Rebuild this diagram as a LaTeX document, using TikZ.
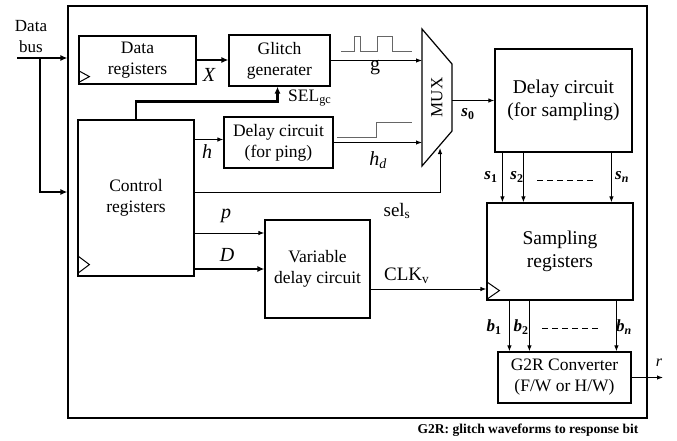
\documentclass[tikz,border=0pt]{standalone}
\usepackage{fontspec}
\setmainfont{Liberation Serif}
\usetikzlibrary{arrows.meta,calc}
\begin{document}
\begin{tikzpicture}[x=1pt,y=-1pt,
  box/.style={draw,line width=1.2pt,inner sep=0pt,align=center,font=\fontsize{17.5}{21}\selectfont},
  bigbox/.style={box,font=\fontsize{19.5}{23}\selectfont},
  thin/.style={line width=1pt,-{Latex[length=6pt,width=4.5pt]}},
  thick/.style={line width=2.6pt,-{Latex[length=7pt,width=6pt]}},
  lbl/.style={inner sep=0pt,font=\fontsize{19}{22}\selectfont},
  ilbl/.style={lbl,font=\fontsize{20}{22}\selectfont\itshape},
  blbl/.style={lbl,font=\fontsize{17}{20}\selectfont\bfseries\itshape},
  wave/.style={line width=1pt,draw=black!60},
  clk/.style={line width=1pt}]
\useasboundingbox (0,0) rectangle (677,440);

% outer frame
\node[draw,line width=1.2pt,minimum width=579pt,minimum height=412pt,inner sep=0pt] (outer) at (357.5,212) {};

% blocks
\node[box,minimum width=117pt,minimum height=48pt] (dreg) at (137.5,60) {Data\\registers};
\node[box,minimum width=101pt,minimum height=51pt] (glitch) at (279.5,60.5) {Glitch\\generater};
\node[box,minimum width=116pt,minimum height=156pt] (ctrl) at (136,198) {Control\\registers};
\node[box,minimum width=109pt,minimum height=51pt] (ping) at (278.5,142.5) {Delay circuit\\(for ping)};
\node[box,minimum width=105pt,minimum height=98pt] (vdel) at (317.5,269) {Variable\\delay circuit};
\node[bigbox,minimum width=137pt,minimum height=103pt] (dsamp) at (563.5,100.5) {Delay circuit\\(for sampling)};
\node[bigbox,minimum width=146pt,minimum height=97pt] (sreg) at (560,251.5) {Sampling\\registers};
\node[box,minimum width=133pt,minimum height=51pt] (g2r) at (564.5,377.5) {G2R Converter\\(F/W or H/W)};

% MUX
\coordinate (m1) at (422,29);
\coordinate (m2) at (452,64);
\coordinate (m3) at (452,131);
\coordinate (m4) at (422,166);
\coordinate (msel) at (440,148);
\draw[line width=1.2pt] (m1) -- (m2) -- (m3) -- (m4) -- cycle;
\node[lbl,rotate=90,font=\fontsize{17}{20}\selectfont] (mux) at (437,97.5) {MUX};

% clock triangles
\draw[clk] ($(dreg.south west)+(0,-2)$) -- ++(11,-6) -- ++(-11,-6);
\draw[clk] ($(ctrl.south west)+(0,-3)$) -- ++(12,-9) -- ++(-12,-9);
\draw[clk] ($(sreg.south west)+(0,-1)$) -- ++(13,-9) -- ++(-13,-9);

% data bus
\coordinate (bus) at (17,58);
\coordinate (busj) at (40,58);
\coordinate (bus2) at (40,192);
\node[lbl,align=center,font=\fontsize{17}{21}\selectfont] (buslbl) at (31,37) {Data\\bus};
\draw[line width=2.6pt] (bus) -- (busj);
\draw[thick] (busj) -- (busj -| outer.west);
\draw[thick] (busj) -- (bus2) -- (bus2 -| outer.west);

% X
\draw[thick] (dreg.east) -- (dreg.east -| glitch.west);
\node[ilbl] (xl) at (209,75) {X};

% SEL_gc
\draw[thick] (ctrl.north) -- ++(0,-18) -| ([xshift=-2pt]glitch.south);
\node[lbl,anchor=west,font=\fontsize{17.5}{20}\selectfont] (selgc) at (288,98) {SEL\textsubscript{gc}};

% h
\draw[thin] ([yshift=3pt]ctrl.east |- ping.west) -- ([yshift=3pt]ping.west);
\node[ilbl] (hl) at (207,152) {h};

% g with waveform
\draw[thin] (glitch.east) -- (glitch.east -| m1);
\node[lbl,font=\fontsize{20}{22}\selectfont] (gl) at (375,68) {g};
\draw[wave] (341,51) -- (354,51) -- (354,36) -- (360,36) -- (360,51) -- (377,51) -- (377,36) -- (392,36) -- (392,51) -- (412,51);

% h_d with waveform
\draw[thin] (ping.east) -- (ping.east -| m1);
\node[ilbl] (hdl) at (378,160) {h\textsubscript{\itshape d}};
\draw[wave] (337,137) -- (376,137) -- (376,122) -- (412,122);

% sel_s
\draw[thin] ([yshift=6pt]ctrl.east) -| (msel);
\node[lbl] (sels) at (397,211) {sel\textsubscript{s}};

% s0
\draw[thin] (dsamp.west -| m2) -- (dsamp.west);
\node[blbl] (s0) at (468,114) {s\textsubscript{\upshape 0}};

% s1, s2, sn
\draw[thin] ([xshift=8pt]dsamp.south west) -- ([xshift=8pt]dsamp.south west |- sreg.north);
\draw[thin] ([xshift=29pt]dsamp.south west) -- ([xshift=29pt]dsamp.south west |- sreg.north);
\draw[thin] ([xshift=117pt]dsamp.south west) -- ([xshift=117pt]dsamp.south west |- sreg.north);
\node[blbl] (s1) at (491,177) {s\textsubscript{\upshape 1}};
\node[blbl] (s2) at (517,177) {s\textsubscript{\upshape 2}};
\node[blbl] (sn) at (622,177) {s\textsubscript{\itshape n}};
\draw[line width=1pt,dash pattern=on 6pt off 4pt] (537,180) -- (594,180);

% p, D
\draw[thin] ([yshift=36pt]vdel.west -| ctrl.east) -- ([yshift=36pt]vdel.west);
\node[ilbl] (pl) at (226,216) {p};
\draw[thick] (vdel.west -| ctrl.east) -- (vdel.west);
\node[ilbl] (dl) at (227,255) {D};

% CLK_v
\draw[thin] ([yshift=-20pt]vdel.east) -- ([yshift=-20pt]vdel.east -| sreg.west);
\node[lbl,anchor=west] (clkv) at (384,276) {CLK\textsubscript{v}};

% b1, b2, bn
\draw[thin] ([xshift=23pt]sreg.south west) -- ([xshift=23pt]sreg.south west |- g2r.north);
\draw[thin] ([xshift=43pt]sreg.south west) -- ([xshift=43pt]sreg.south west |- g2r.north);
\draw[thin] ([xshift=130pt]sreg.south west) -- ([xshift=130pt]sreg.south west |- g2r.north);
\node[blbl] (b1) at (494,327) {b\textsubscript{\upshape 1}};
\node[blbl] (b2) at (521,327) {b\textsubscript{\upshape 2}};
\node[blbl] (bn) at (624,327) {b\textsubscript{\itshape n}};
\draw[line width=1pt,dash pattern=on 6pt off 4pt] (542,328) -- (598,328);

% r
\coordinate (rend) at (663,377.5);
\draw[thin] (g2r.east) -- (rend);
\node[ilbl,font=\fontsize{16}{18}\selectfont\itshape] (rl) at (659,363) {r};

% caption
\node[lbl,font=\fontsize{13.5}{15}\selectfont\bfseries] (cap) at (528,430) {G2R: glitch waveforms to response bit};
\end{tikzpicture}
\end{document}
